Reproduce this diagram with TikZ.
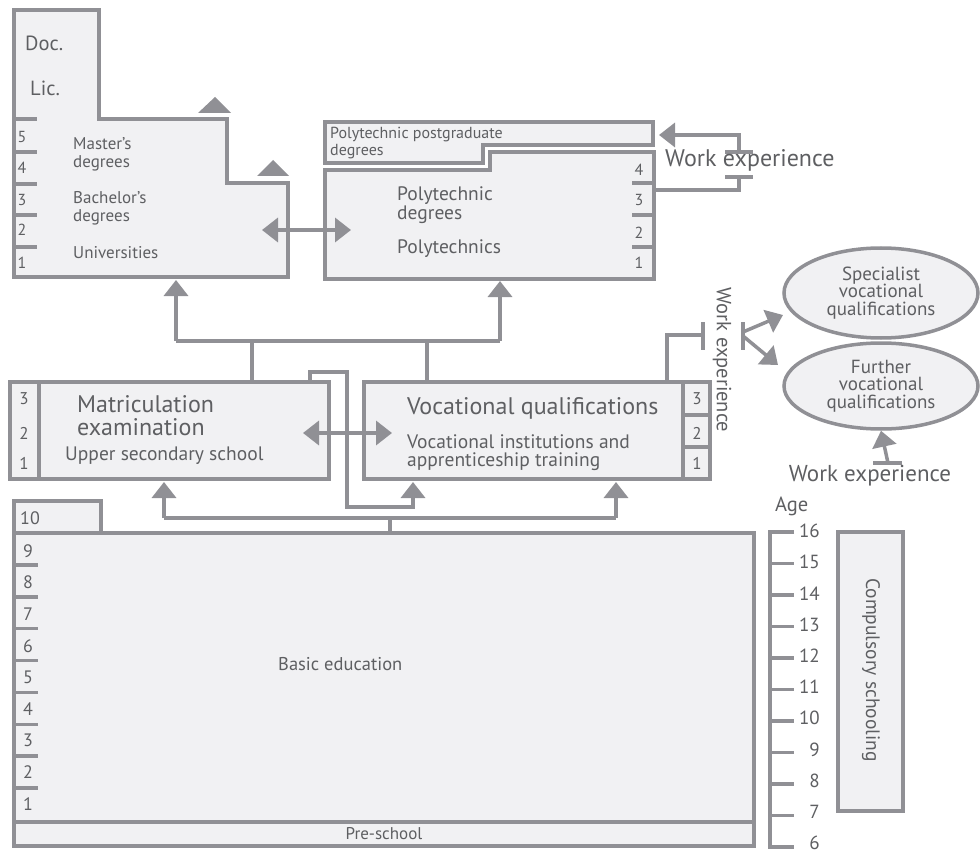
\documentclass[tikz,border=0pt]{standalone}
\usepackage{fontspec}
\setmainfont{PT Sans}
\usetikzlibrary{arrows.meta,shapes.geometric}

\definecolor{linegray}{HTML}{909095}
\definecolor{boxfill}{HTML}{F1F1F3}
\definecolor{textgray}{HTML}{5E5F62}

\newcommand{\fs}[2]{\fontsize{#1}{#2}\selectfont}

\tikzset{
  box/.style={draw=linegray,fill=boxfill,line width=3.5pt},
  wire/.style={draw=linegray,line width=3.5pt},
  tip/.style={-{Triangle[length=16pt,width=24pt]}},
  tips/.style={{Triangle[length=16pt,width=24pt]}-{Triangle[length=16pt,width=24pt]}},
  lbl/.style={text=textgray,inner sep=0pt,align=left,anchor=west},
  num/.style={text=textgray,inner sep=0pt,font=\fs{16}{16}},
}

\begin{document}
\begin{tikzpicture}[x=1pt,y=-1pt]
    \useasboundingbox (0,0) rectangle (980,853);
    % universities
    \draw[box] (14,10) -- (99,10) -- (99,119) -- (227,119) -- (227,183) -- (288,183) -- (288,277) -- (14,277) -- cycle;
    \foreach \y in {119,152,184,215,247}
        \draw[wire] (14,\y) -- (37,\y);
    \foreach \n/\y in {5/137,4/168,3/200,2/230,1/263}
        \node[num] (uni\n) at (22,\y) {\n};
    \fill[linegray] (198,113) -- (231,113) -- (215,97) -- cycle;
    \fill[linegray] (257,176) -- (289,176) -- (273,160) -- cycle;
    % polytechnics
    \draw[box] (325,122) -- (653,122) -- (653,145) -- (483,145) -- (483,163) -- (325,163) -- cycle;
    \draw[box] (325,170) -- (490,170) -- (490,152) -- (654,152) -- (654,279) -- (325,279) -- cycle;
    \foreach \y in {183,215,247}
        \draw[wire] (632,\y) -- (654,\y);
    \foreach \n/\y in {4/170,3/200,2/233,1/263}
        \node[num] (poly\n) at (639,\y) {\n};
    % upper secondary level
    \draw[box] (10,382) rectangle (329,479);
    \draw[wire] (39,382) -- (39,479);
    \draw[box] (364,382) rectangle (710,479);
    \draw[wire] (683,382) -- (683,479);
    \foreach \y in {415,447}
        \draw[wire] (683,\y) -- (710,\y);
    \foreach \n/\y in {3/399,2/433,1/463}{
        \node[num,font=\fs{17}{17}] (mat\n) at (24,\y) {\n};
        \node[num,font=\fs{17}{17}] (voc\n) at (697,\y) {\n};
    }
    % basic education and pre-school
    \draw[box] (14,501) rectangle (101,533);
    \draw[box] (14,533) rectangle (754,822);
    \draw[box] (14,822) rectangle (754,846);
    \foreach \k in {0,...,7}
        \draw[wire] (14,565+31.85*\k) -- (38,565+31.85*\k);
    \node[num,font=\fs{18}{18}] (bas10) at (30,518) {10};
    \foreach \n in {1,...,9}
        \node[num,font=\fs{18}{18}] (bas\n) at (28,{551+31.6*(9-\n)}) {\n};
    % age scale
    \draw[box] (838,532) rectangle (903,811);
    \draw[wire] (794,532) -- (770,532) -- (770,847) -- (794,847);
    \foreach \k in {1,...,9}
        \draw[wire] (770,532+31.5*\k) -- (794,532+31.5*\k);
    \foreach \k in {0,...,10}
        \node[num,font=\fs{19}{19},anchor=east] (age\k) at (820,531+31.2*\k) {\pgfmathparse{int(16-\k)}\pgfmathresult};
    % further qualifications
    \node[ellipse,box,minimum width=194pt,minimum height=90pt,text=textgray,align=center,font=\fs{19}{17.5},inner sep=0pt] (spec) at (881,293) {Specialist\\vocational\\qualifications};
    \node[ellipse,box,minimum width=194pt,minimum height=86pt,text=textgray,align=center,font=\fs{19}{17.5},inner sep=0pt] (furt) at (881,386) {Further\\vocational\\qualifications};

    % connectors
    \coordinate (uniS) at (176,280);
    \coordinate (polyS) at (500,281);
    \coordinate (matN) at (252,382);
    \coordinate (vocN) at (427,382);
    \coordinate (jU) at (176,341);
    \coordinate (jP) at (500,341);
    \draw[wire] (matN) -- (252,341);
    \draw[wire] (vocN) -- (427,341);
    \draw[wire,tip] (jU) -- (uniS);
    \draw[wire,tip] (jP) -- (polyS);
    \draw[wire] (jU) -- (jP);
    \coordinate (basN) at (390,531);
    \coordinate (jL) at (164,518);
    \coordinate (jR) at (616,518);
    \draw[wire] (basN) -- (390,518);
    \draw[wire] (jL) -- (jR);
    \draw[wire,tip] (jL) -- (164,482);
    \draw[wire,tip] (jR) -- (616,482);
    \draw[wire,tip] (310,382) -- (310,372) -- (347,372) -- (347,507) -- (413,507) -- (413,482);
    \coordinate (uniE) at (262,230);
    \coordinate (polyW) at (351,230);
    \draw[wire,tips] (uniE) -- (polyW);
    \coordinate (matE) at (303,433);
    \coordinate (vocW) at (392,433);
    \draw[wire,tips] (matE) -- (vocW);
    % work experience, polytechnics
    \draw[wire] (654,190) -- (739,190) -- (739,177);
    \draw[wire] (725,177) -- (753,177);
    \draw[wire] (725,152) -- (753,152);
    \draw[wire,tip] (739,152) -- (739,135) -- (659,135);
    % work experience, vocational
    \draw[wire] (667,382) -- (667,335) -- (703,335);
    \draw[wire] (703,322) -- (703,350);
    \draw[wire] (743,322) -- (743,350);
    \draw[wire,tip] (743,332) -- (783,315);
    \draw[wire,tip] (743,336) -- (778,365);
    % work experience, further
    \draw[wire] (873,463) -- (902,463);
    \draw[wire,tip] (888,463) -- (furt.south);

    % labels
    \node[lbl,font=\fs{20.5}{20}] (doc) at (25,43) {Doc.};
    \node[lbl,font=\fs{20.5}{20}] (lic) at (30,88) {Lic.};
    \node[lbl,font=\fs{17}{18}] (mast) at (73,154) {Master’s\\degrees};
    \node[lbl,font=\fs{17}{18}] (bach) at (73,208) {Bachelor’s\\degrees};
    \node[lbl,font=\fs{17}{18}] (univ) at (73,253) {Universities};
    \node[lbl,font=\fs{16}{17}] (pgrad) at (330,143) {Polytechnic postgraduate\\degrees};
    \node[lbl,font=\fs{19.5}{17.5}] (pdeg) at (397,205) {Polytechnic\\degrees};
    \node[lbl,font=\fs{19.5}{18}] (ptec) at (397,249) {Polytechnics};
    \node[lbl,font=\fs{24}{23}] (matr) at (77,416) {Matriculation\\examination};
    \node[lbl,font=\fs{19.5}{18}] (upsec) at (65,456) {Upper secondary school};
    \node[lbl,font=\fs{24}{23}] (vocq) at (407,408) {Vocational qualifications};
    \node[lbl,font=\fs{19.5}{18}] (vocin) at (407,453) {Vocational institutions and\\apprenticeship training};
    \node[lbl,font=\fs{18.5}{18}] (basic) at (278,664) {Basic education};
    \node[num,font=\fs{17}{17}] (pre) at (384,834) {Pre-school};
    \node[num,font=\fs{19.5}{19}] (comp) at (871,670) [rotate=-90] {Compulsory schooling};
    \node[lbl,font=\fs{20.5}{20}] (age) at (775,506) {Age};
    \node[lbl,font=\fs{24}{24}] (work1) at (665,160) {Work experience};
    \node[num,font=\fs{20.5}{20},rotate=-90] (work2) at (722,360) {Work experience};
    \node[num,font=\fs{23}{23}] (work3) at (870,476) {Work experience};
\end{tikzpicture}
\end{document}
